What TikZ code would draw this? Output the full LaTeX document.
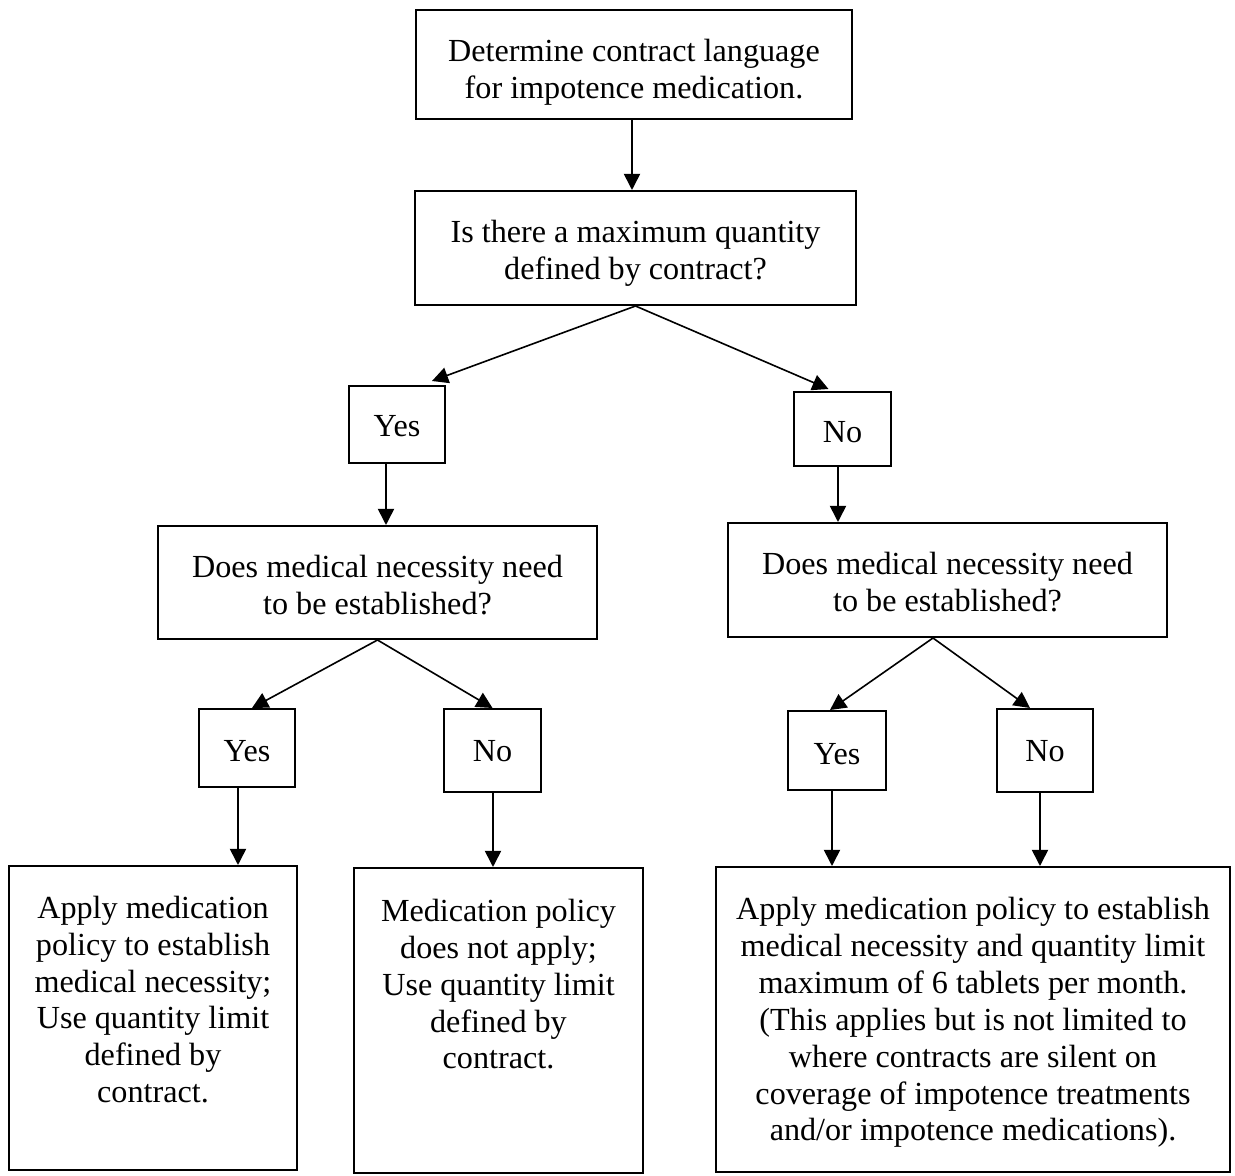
\documentclass[tikz,border=0pt]{standalone}
\usepackage{fontspec}
\setmainfont{Liberation Serif}
\usetikzlibrary{arrows.meta,calc}

\begin{document}
\begin{tikzpicture}[x=0.373pt, y=-0.373pt,
  box/.style={draw, line width=0.75pt, inner sep=0pt},
  dims/.style 2 args={minimum width=#1*0.373pt, minimum height=#2*0.373pt},
  txt/.style={anchor=base, inner sep=0pt, align=center, font=\fontsize{12}{13.8}\selectfont},
  arr/.style={line width=0.6pt, -{Triangle[length=6pt,width=6pt]}}]
  \useasboundingbox (0,0) rectangle (1235,1176);

  % Question boxes
  \node[box, dims={436}{109}] (start) at (634,64.5) {};
  \node[box, dims={441}{114}] (q1) at (635.5,248) {};
  \node[box, dims={439}{113}] (q2L) at (377.5,582.5) {};
  \node[box, dims={439}{114}] (q2R) at (947.5,580) {};

  % Yes / No boxes
  \node[box, dims={96}{77}] (yesA) at (397,424.5) {};
  \node[box, dims={97}{74}] (noA) at (842.5,429) {};
  \node[box, dims={96}{78}] (yesB) at (247,748) {};
  \node[box, dims={97}{83}] (noB) at (492.5,750.5) {};
  \node[box, dims={98}{79}] (yesC) at (837,750.5) {};
  \node[box, dims={96}{83}] (noC) at (1045,750.5) {};

  % Outcome boxes
  \node[box, dims={288}{304}] (res1) at (153,1018) {};
  \node[box, dims={289}{305}] (res2) at (498.5,1020.5) {};
  \node[box, dims={514}{305}] (res3) at (973,1019.5) {};

  % Texts (base = last line; first baseline about 53 under the top edge, 37 per line)
  \node[txt] (start-t) at ($(start.north)+(0,90)$) {Determine contract language\\for impotence medication.};
  \node[txt] (q1-t) at ($(q1.north)+(0,90)$) {Is there a maximum quantity\\defined by contract?};
  \node[txt] (q2L-t) at ($(q2L.north)+(0,90)$) {Does medical necessity need\\to be established?};
  \node[txt] (q2R-t) at ($(q2R.north)+(0,90)$) {Does medical necessity need\\to be established?};
  \node[txt] (yesA-t) at ($(yesA.north)+(0,52)$) {Yes};
  \node[txt] (noA-t) at ($(noA.north)+(0,52)$) {No};
  \node[txt] (yesB-t) at ($(yesB.north)+(0,54)$) {Yes};
  \node[txt] (noB-t) at ($(noB.north)+(0,54)$) {No};
  \node[txt] (yesC-t) at ($(yesC.north)+(0,55)$) {Yes};
  \node[txt] (noC-t) at ($(noC.north)+(0,54)$) {No};
  \node[txt] (res1-t) at ($(res1.north)+(0,238)$) {Apply medication\\policy to establish\\medical necessity;\\Use quantity limit\\defined by\\contract.};
  \node[txt] (res2-t) at ($(res2.north)+(0,202)$) {Medication policy\\does not apply;\\Use quantity limit\\defined by\\contract.};
  \node[txt] (res3-t) at ($(res3.north)+(0,275)$) {Apply medication policy to establish\\medical necessity and quantity limit\\maximum of 6 tablets per month.\\(This applies but is not limited to\\where contracts are silent on\\coverage of impotence treatments\\and/or impotence medications).};

  % Arrows
  \draw[arr] (start.south -| 632,0) -- (q1.north -| 632,0);
  \draw[arr] (q1.south) -- ($(yesA.north)+(35,-4)$);
  \draw[arr] (q1.south) -- ($(noA.north)+(-14,-2)$);
  \draw[arr] (yesA.south -| 386,0) -- (q2L.north -| 386,0);
  \draw[arr] (noA.south -| 838,0) -- (q2R.north -| 838,0);
  \draw[arr] (q2L.south) -- ($(yesB.north)+(5,0)$);
  \draw[arr] (q2L.south) -- (noB.north);
  \draw[arr] (q2R.south -| 933,0) -- ($(yesC.north)+(-7,0)$);
  \draw[arr] (q2R.south -| 933,0) -- ($(noC.north)+(-15,0)$);
  \draw[arr] (yesB.south -| 238,0) -- (res1.north -| 238,0);
  \draw[arr] (noB.south -| 493,0) -- (res2.north -| 493,0);
  \draw[arr] (yesC.south -| 832,0) -- (res3.north -| 832,0);
  \draw[arr] (noC.south -| 1040,0) -- (res3.north -| 1040,0);

\end{tikzpicture}
\end{document}
